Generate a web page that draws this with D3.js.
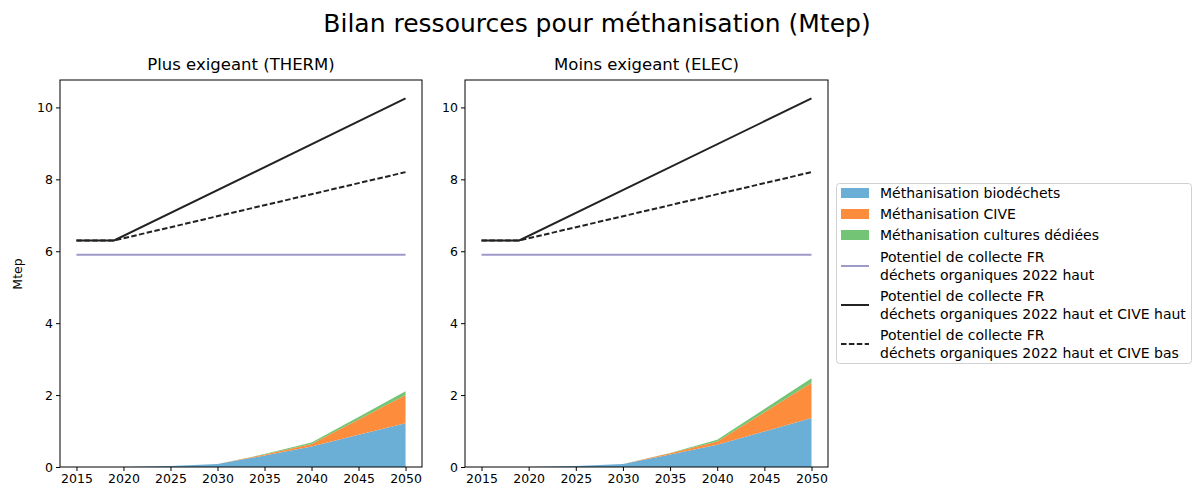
<!DOCTYPE html>
<html>
<head>
<meta charset="utf-8">
<script src="https://cdn.jsdelivr.net/npm/d3@7"></script>
<style>
  body { margin: 0; background: #fff; }
  svg { display: block; font-family: "DejaVu Sans", sans-serif; }
</style>
</head>
<body>
<svg id="chart" width="1193" height="489"></svg>
<script>
// Years of the stacked production series
const years = [2015, 2020, 2025, 2030, 2035, 2040, 2045, 2050];

// Plus exigeant (THERM)
const thermBiodechets = [0, 0, 0.03, 0.08, 0.32, 0.57, 0.90, 1.22];
const thermCive       = [0, 0, 0.00, 0.00, 0.03, 0.07, 0.42, 0.78];
const thermCultures   = [0, 0, 0.00, 0.00, 0.01, 0.04, 0.07, 0.11];

// Moins exigeant (ELEC)
const elecBiodechets = [0, 0, 0.03, 0.08, 0.35, 0.62, 0.99, 1.36];
const elecCive       = [0, 0, 0.00, 0.00, 0.03, 0.09, 0.53, 0.98];
const elecCultures   = [0, 0, 0.00, 0.00, 0.01, 0.05, 0.09, 0.13];

// Resource potential lines
const potYears = [2015, 2019, 2050];
const potDechets         = [5.9, 5.9, 5.9];
const potDechetsCiveHaut = [6.3, 6.3, 10.25];
const potDechetsCiveBas  = [6.3, 6.3, 8.2];

const xTicks = [2015, 2020, 2025, 2030, 2035, 2040, 2045, 2050];
const yTicks = [0, 2, 4, 6, 8, 10];

const panelTitles = ["Plus exigeant (THERM)", "Moins exigeant (ELEC)"];
const seriesNames = ["Méthanisation biodéchets", "Méthanisation CIVE", "Méthanisation cultures dédiées"];
const lineNames = [
  ["Potentiel de collecte FR", "déchets organiques 2022 haut"],
  ["Potentiel de collecte FR", "déchets organiques 2022 haut et CIVE haut"],
  ["Potentiel de collecte FR", "déchets organiques 2022 haut et CIVE bas"]
];
const areaColors = ["#6baed6", "#fd8d3c", "#74c476"];
const lineColors = ["#9e9ac8", "#222222", "#222222"];
const lineDashes = [null, null, "5.5,2.4"];

const panels = [
  { title: panelTitles[0], stacks: [thermBiodechets, thermCive, thermCultures], x0: 60, x1: 422 },
  { title: panelTitles[1], stacks: [elecBiodechets, elecCive, elecCultures], x0: 465, x1: 828 }
];

const svg = d3.select("#chart");
const plotTop = 80, plotBottom = 467;
const yMax = 10.25 * 1.05;

svg.append("text")
  .attr("x", 597).attr("y", 32)
  .attr("text-anchor", "middle")
  .attr("font-size", 25)
  .attr("fill", "#000")
  .text("Bilan ressources pour méthanisation (Mtep)");

panels.forEach((p) => {
  const x = d3.scaleLinear().domain([2015 - 1.75, 2050 + 1.75]).range([p.x0, p.x1]);
  const y = d3.scaleLinear().domain([0, yMax]).range([plotBottom, plotTop]);
  const g = svg.append("g");

  // stacked areas
  const rows = years.map((yr, i) => ({ year: yr, s0: p.stacks[0][i], s1: p.stacks[1][i], s2: p.stacks[2][i] }));
  const layers = d3.stack().keys(["s0", "s1", "s2"])(rows);
  const area = d3.area()
    .x(d => x(d.data.year))
    .y0(d => y(d[0]))
    .y1(d => y(d[1]));
  g.selectAll("path.layer").data(layers).join("path")
    .attr("class", "layer")
    .attr("d", area)
    .attr("fill", (d, i) => areaColors[i]);

  // potential lines
  const line = d3.line().x(d => x(d[0])).y(d => y(d[1]));
  [potDechets, potDechetsCiveHaut, potDechetsCiveBas].forEach((vals, li) => {
    g.append("path")
      .attr("d", line(potYears.map((yr, i) => [yr, vals[i]])))
      .attr("fill", "none")
      .attr("stroke", lineColors[li])
      .attr("stroke-width", 2)
      .attr("stroke-dasharray", lineDashes[li]);
  });

  // axes
  const xAxis = d3.axisBottom(x).tickValues(xTicks).tickFormat(d3.format("d")).tickSizeOuter(0).tickSize(4).tickPadding(3);
  const yAxis = d3.axisLeft(y).tickValues(yTicks).tickSizeOuter(0).tickSize(4).tickPadding(3);
  const gx = g.append("g").attr("transform", `translate(0,${plotBottom})`).call(xAxis);
  const gy = g.append("g").attr("transform", `translate(${p.x0},0)`).call(yAxis);
  [gx, gy].forEach(a => {
    a.select(".domain").remove();
    a.selectAll("text").attr("font-size", 12.5).attr("fill", "#000").attr("font-family", "DejaVu Sans, sans-serif");
    a.selectAll("line").attr("stroke", "#000");
  });

  // frame
  g.append("rect")
    .attr("x", p.x0).attr("y", plotTop)
    .attr("width", p.x1 - p.x0).attr("height", plotBottom - plotTop)
    .attr("fill", "none").attr("stroke", "#000").attr("stroke-width", 1);

  g.append("text")
    .attr("x", (p.x0 + p.x1) / 2).attr("y", 70)
    .attr("text-anchor", "middle")
    .attr("font-size", 16.5)
    .attr("fill", "#000")
    .text(p.title);
});

// y label
svg.append("text")
  .attr("transform", "translate(22,274) rotate(-90)")
  .attr("text-anchor", "middle")
  .attr("font-size", 12.5)
  .text("Mtep");

// legend
const lg = svg.append("g");
lg.append("rect")
  .attr("x", 836.5).attr("y", 183.5).attr("width", 355).attr("height", 180)
  .attr("rx", 3)
  .attr("fill", "#fff").attr("stroke", "#d0d0d0").attr("stroke-width", 1);

const patchRows = [193, 214, 235];
seriesNames.forEach((name, i) => {
  lg.append("rect")
    .attr("x", 841).attr("y", patchRows[i] - 5).attr("width", 28).attr("height", 10)
    .attr("fill", areaColors[i]);
  lg.append("text")
    .attr("x", 880).attr("y", patchRows[i] + 5)
    .attr("font-size", 14).attr("fill", "#000")
    .text(name);
});

const lineRows = [266, 305, 344];
lineNames.forEach((lines, i) => {
  lg.append("line")
    .attr("x1", 841).attr("x2", 869)
    .attr("y1", lineRows[i]).attr("y2", lineRows[i])
    .attr("stroke", lineColors[i]).attr("stroke-width", 2)
    .attr("stroke-dasharray", lineDashes[i]);
  lines.forEach((t, k) => {
    lg.append("text")
      .attr("x", 880).attr("y", lineRows[i] - 4 + k * 18)
      .attr("font-size", 14).attr("fill", "#000")
      .text(t);
  });
});
</script>
</body>
</html>
